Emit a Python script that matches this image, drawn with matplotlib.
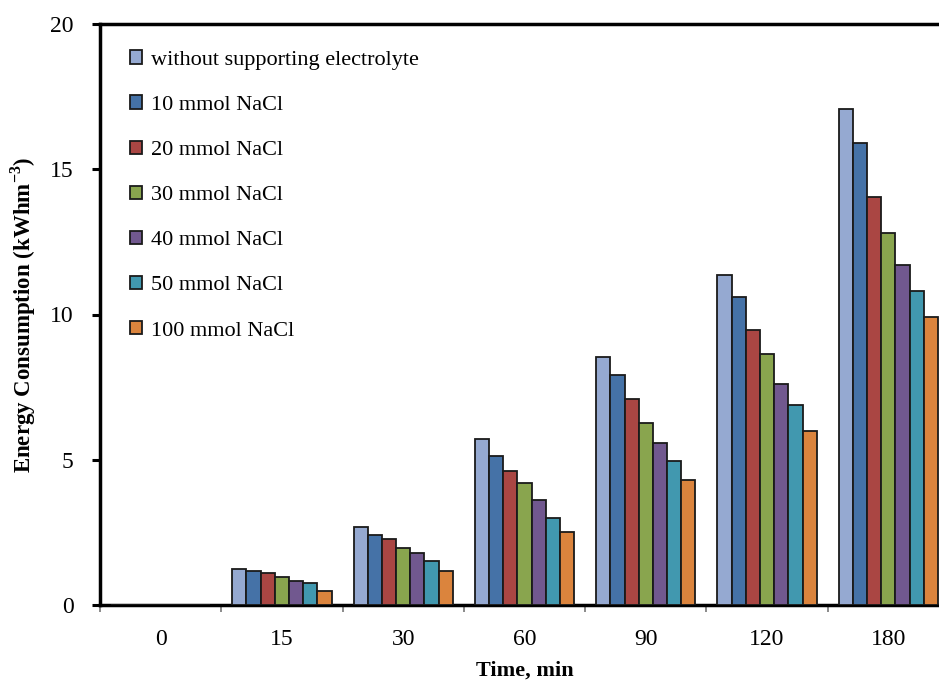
import matplotlib
matplotlib.use("Agg")
import matplotlib.pyplot as plt
import numpy as np

categories = ["0", "15", "30", "60", "90", "120", "180"]
series_names = ["without supporting electrolyte", "10 mmol NaCl", "20 mmol NaCl",
                "30 mmol NaCl", "40 mmol NaCl", "50 mmol NaCl", "100 mmol NaCl"]
without_se = [0, 1.24, 2.69, 5.73, 8.53, 11.36, 17.07]
nacl_10 = [0, 1.17, 2.41, 5.12, 7.93, 10.60, 15.90]
nacl_20 = [0, 1.10, 2.27, 4.62, 7.09, 9.45, 14.03]
nacl_30 = [0, 0.96, 1.95, 4.20, 6.27, 8.63, 12.79]
nacl_40 = [0, 0.84, 1.80, 3.60, 5.58, 7.60, 11.71]
nacl_50 = [0, 0.77, 1.52, 2.98, 4.95, 6.87, 10.81]
nacl_100 = [0, 0.48, 1.17, 2.50, 4.30, 5.98, 9.91]
colors = ["#95A9D1", "#4572A7", "#AA4643", "#89A54E", "#71588F", "#4198AF", "#DB843D"]

series = [without_se, nacl_10, nacl_20, nacl_30, nacl_40, nacl_50, nacl_100]

plt.rcParams['font.family'] = ['Liberation Serif', 'DejaVu Serif']
plt.rcParams['mathtext.fontset'] = 'custom'
plt.rcParams['mathtext.rm'] = 'Liberation Serif'
plt.rcParams['mathtext.bf'] = 'Liberation Serif:bold'

fig = plt.figure(figsize=(9.39, 6.81), dpi=100)
ax = fig.add_axes([100/939, (681-605)/681, 849/939, (605-24)/681])

x = np.arange(len(categories))
w = 0.117
n = len(series)
for i, (vals, name, c) in enumerate(zip(series, series_names, colors)):
    ax.bar(x + (i - (n-1)/2) * w, vals, w, color=c, edgecolor="#1a1a1a",
           linewidth=1.3, label=name, zorder=3)

ax.set_xlim(-0.5, len(categories) - 0.5)
ax.set_ylim(0, 20)
ax.set_yticks([0, 5, 10, 15, 20])
ax.set_xticks(x)
ax.set_xticklabels(categories)
ax.set_xticks(np.arange(len(categories) + 1) - 0.5, minor=True)
ax.tick_params(axis='x', which='major', length=0, pad=17, labelsize=17)
ax.tick_params(axis='x', which='minor', length=5, width=1.2, color="#777777", direction='out')
ax.tick_params(axis='y', which='major', length=6, width=2.2, pad=13, labelsize=17, direction='out')

for s in ['left', 'top', 'bottom']:
    ax.spines[s].set_linewidth(2.5)
    ax.spines[s].set_color('black')
ax.spines['right'].set_visible(False)

ax.set_xlabel("Time, min", fontsize=16, fontweight='bold', labelpad=8)
ax.set_ylabel("Energy Consumption (kWhm$^{\\mathbf{-3}}$)", fontsize=16.5, fontweight='bold')
ax.yaxis.set_label_coords((38 - 100) / 849, 0.5)

leg = ax.legend(loc='upper left', bbox_to_anchor=(0.025, 0.97), frameon=False,
                fontsize=16, handlelength=0.55, handleheight=0.55, handletextpad=0.4,
                labelspacing=1.15, borderaxespad=0)

fig.savefig("out.png", dpi=100)
